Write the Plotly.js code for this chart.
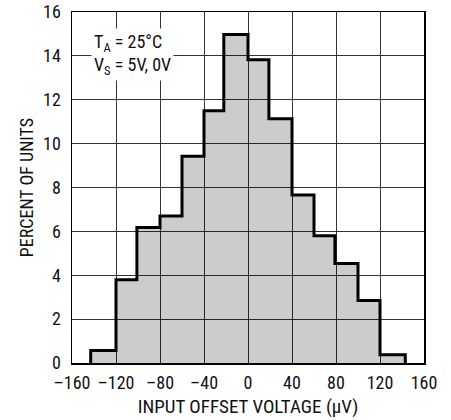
<!DOCTYPE html>
<html>
<head>
<meta charset="utf-8">
<script src="https://cdn.plot.ly/plotly-3.0.1.min.js"></script>
<style>html,body{margin:0;padding:0;background:#fff;}#chart{width:451px;height:420px;}</style>
</head>
<body>
<div id="chart"></div>
<script>
// Bin edges (µV) and percent of units per bin
const binEdges = [-143, -120, -101, -80, -60, -40, -22, 0, 19, 40, 60, 79, 100, 120, 143];
const percentUnits = [0.57, 3.80, 6.18, 6.70, 9.42, 11.50, 14.98, 13.82, 11.13, 7.66, 5.80, 4.54, 2.85, 0.38];
const xTicks = [-160, -120, -80, -40, 0, 40, 80, 120, 160];
const yTicks = [0, 2, 4, 6, 8, 10, 12, 14, 16];

const xs = [binEdges[0]], ys = [0];
for (let i = 0; i < percentUnits.length; i++) {
  xs.push(binEdges[i], binEdges[i + 1]);
  ys.push(percentUnits[i], percentUnits[i]);
}
xs.push(binEdges[binEdges.length - 1]); ys.push(0);

const FONT = 'Roboto Condensed, sans-serif';
const FS = 18;

const trace = {
  type: 'scatter', mode: 'lines', x: xs, y: ys,
  fill: 'toself', fillcolor: 'rgba(0,0,0,0.2)',
  line: {color: '#000', width: 3}, hoverinfo: 'none'
};

const layout = {
  width: 451, height: 420,
  margin: {l: 72, r: 27, t: 12, b: 57},
  paper_bgcolor: '#fff', plot_bgcolor: '#fff',
  showlegend: false,
  font: {family: FONT, size: FS, color: '#111'},
  xaxis: {
    range: [-160, 160], tickvals: xTicks, ticktext: xTicks.map(v => v < 0 ? '\u2013' + Math.abs(v) : String(v)),
    showgrid: true, gridcolor: '#333', gridwidth: 1,
    showline: true, linecolor: '#000', linewidth: 1.5, mirror: true,
    ticks: 'outside', ticklen: 3, tickcolor: 'rgba(0,0,0,0)', zeroline: false,
    tickfont: {family: FONT, size: FS, color: '#111'},
    title: {text: 'INPUT OFFSET VOLTAGE (\u03bcV)', font: {family: FONT, size: 19, color: '#111'}, standoff: 7}
  },
  yaxis: {
    range: [0, 16], tickvals: yTicks,
    showgrid: true, gridcolor: '#333', gridwidth: 1,
    showline: true, linecolor: '#000', linewidth: 1.5, mirror: true,
    ticks: 'outside', ticklen: 6, tickcolor: 'rgba(0,0,0,0)', zeroline: false,
    tickfont: {family: FONT, size: FS, color: '#111'},
    title: {text: 'PERCENT OF UNITS', font: {family: FONT, size: FS, color: '#111'}, standoff: 5}
  },
  annotations: [{
    xref: 'x', yref: 'y', x: -143, y: 15.25, xanchor: 'left', yanchor: 'top',
    text: 'T<sub>A</sub> = 25\u00b0C<br>V<sub>S</sub> = 5V, 0V',
    showarrow: false, align: 'left', bgcolor: '#fff', borderpad: 2,
    font: {family: FONT, size: FS, color: '#111'}
  }]
};

Plotly.newPlot('chart', [trace], layout, {displayModeBar: false, staticPlot: true});
</script>
</body>
</html>
